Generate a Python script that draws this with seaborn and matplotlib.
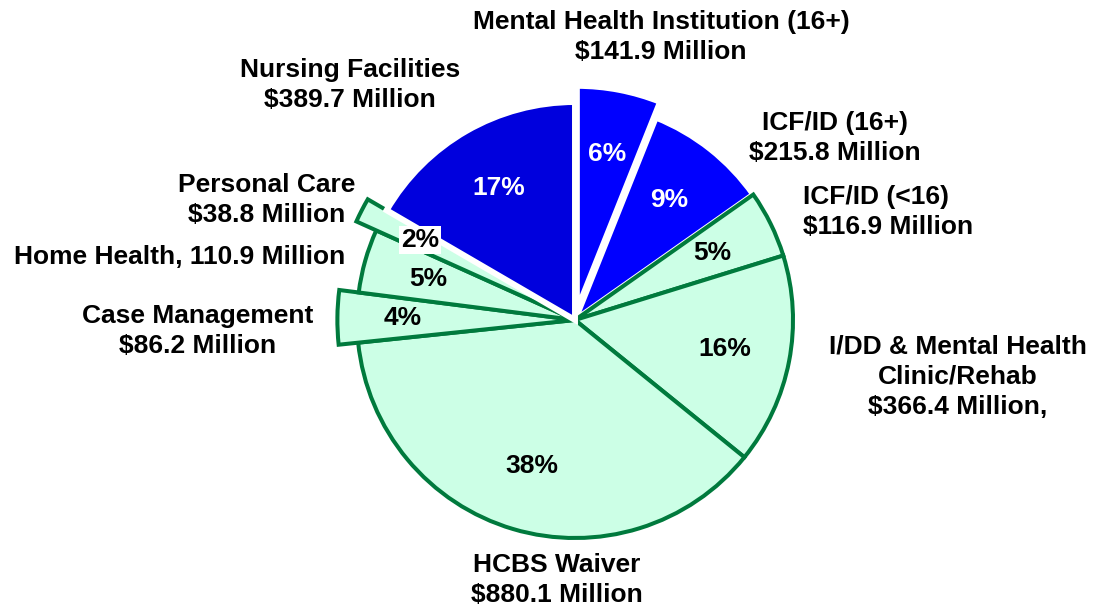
import matplotlib
matplotlib.use('Agg')
import matplotlib.pyplot as plt
import seaborn as sns

# spending by program, millions of dollars (clockwise from 12 o'clock)
categories = ['Mental Health Institution (16+)', 'ICF/ID (16+)', 'ICF/ID (<16)',
              'I/DD & Mental Health Clinic/Rehab', 'HCBS Waiver', 'Case Management',
              'Home Health', 'Personal Care', 'Nursing Facilities']
spending = [141.9, 215.8, 116.9, 366.4, 880.1, 86.2, 110.9, 38.8, 389.7]
label_text = ['Mental Health Institution (16+)\n$141.9 Million',
              'ICF/ID (16+)\n$215.8 Million',
              'ICF/ID (<16)\n$116.9 Million',
              'I/DD & Mental Health\nClinic/Rehab\n$366.4 Million,',
              'HCBS Waiver\n$880.1 Million',
              'Case Management\n$86.2 Million',
              'Home Health, 110.9 Million',
              'Personal Care\n$38.8 Million',
              'Nursing Facilities\n$389.7 Million']
institutional = [True, True, False, False, False, False, False, False, True]

# layout (pixel units, y measured from top)
W, H = 1094, 609
center_px = (575, 320)
radius_px = 218
explode = [0.045, 0, 0, 0, 0, 0, 0, 0, 0]          # shift, fraction of radius
pull_out = [0.03, 0, 0, 0, 0, 0.09, 0, 0.1, 0]     # extra radius, fraction
label_pos = [(661, 37, 'center'), (835, 138, 'center'), (803, 212, 'left'),
             (958, 377, 'center'), (557, 580, 'center'), (198, 331, 'center'),
             (180, 257, 'center'), (267, 200, 'center'), (350, 85, 'center')]

mint = '#CCFFE6'
dark_green = '#007A3D'
blue = '#0000FF'
nf_blue = '#0000DD'

sns.set_theme(style='white')
plt.rcParams['font.family'] = ['Liberation Sans', 'DejaVu Sans']
plt.rcParams['font.weight'] = 'bold'

fig = plt.figure(figsize=(W / 100, H / 100), dpi=100)
ax = fig.add_axes([0, 0, 1, 1])

colors = [(nf_blue if c == 'Nursing Facilities' else blue) if inst else mint
          for c, inst in zip(categories, institutional)]

cx, cy = center_px[0], H - center_px[1]
# pie's explode offset is in data units, so scale by the radius
wedges, _, autotexts = ax.pie(spending, explode=[e * radius_px for e in explode],
                              colors=colors, startangle=90, counterclock=False,
                              radius=radius_px, center=(cx, cy),
                              autopct='%.0f%%', pctdistance=0.7,
                              textprops=dict(fontsize=19, fontweight='bold'))

for w, inst, p in zip(wedges, institutional, pull_out):
    if inst:
        w.set_edgecolor('white')
        w.set_linewidth(4.3)
    else:
        w.set_edgecolor(dark_green)
        w.set_linewidth(2.9)
    w.set_joinstyle('miter')
    if p:
        w.set_radius(radius_px * (1 + p))

for t, inst, c, p in zip(autotexts, institutional, categories, pull_out):
    t.set_color('white' if inst else 'black')
    if p:
        x, y = t.get_position()
        d = ((x - cx) ** 2 + (y - cy) ** 2) ** 0.5
        k = (d + p * radius_px) / d
        t.set_position((cx + (x - cx) * k, cy + (y - cy) * k))
    if c == 'Personal Care':
        t.set_bbox(dict(facecolor='white', edgecolor='none', pad=1.5))

for txt, (x, y, ha) in zip(label_text, label_pos):
    ax.text(x, H - y, txt, ha=ha, va='center', fontsize=19, fontweight='bold',
            color='black', multialignment=ha, linespacing=1.33)

ax.set_xlim(0, W)
ax.set_ylim(0, H)
ax.set_aspect('equal')
ax.axis('off')

fig.savefig('out.png', dpi=100)
